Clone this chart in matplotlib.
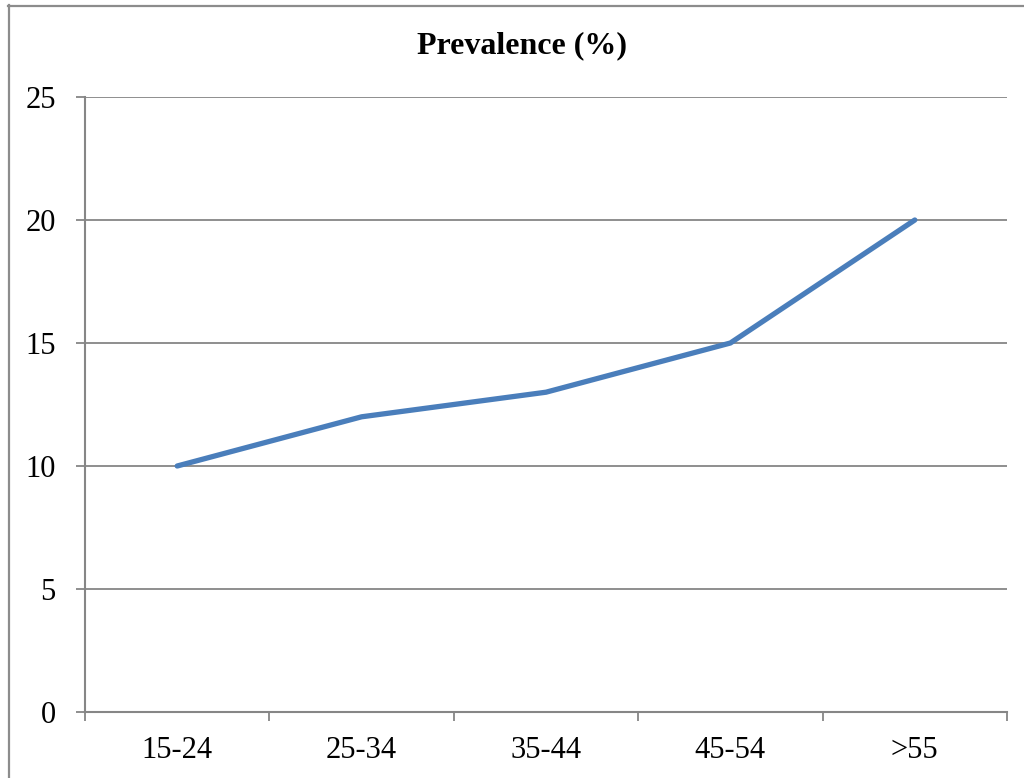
import matplotlib
matplotlib.use("Agg")
import matplotlib.pyplot as plt
from matplotlib.lines import Line2D

age_groups = ["15-24", "25-34", "35-44", "45-54", ">55"]
prevalence = [10, 12, 13, 15, 20]
y_ticks = [0, 5, 10, 15, 20, 25]

plt.rcParams["font.family"] = ["Liberation Serif", "DejaVu Serif"]

W, H = 1024, 778
fig = plt.figure(figsize=(W / 100, H / 100), dpi=100)
ax = fig.add_axes([85 / W, 1 - 712 / H, (1007 - 85) / W, (712 - 97) / H])

grey = "#868686"
x = list(range(len(age_groups)))
ax.plot(x, prevalence, color="#4A7EBB", linewidth=3.8, solid_capstyle="round",
        solid_joinstyle="round", zorder=3)

ax.set_xlim(-0.5, len(age_groups) - 0.5)
ax.set_ylim(0, 25)
ax.set_yticks(y_ticks)
ax.set_yticklabels([str(v) for v in y_ticks])
ax.set_xticks(x)
ax.set_xticklabels(age_groups)
ax.set_xticks([i - 0.5 for i in range(len(age_groups) + 1)], minor=True)

ax.yaxis.grid(True, color=grey, linewidth=1.3)
ax.set_axisbelow(True)

for s in ("top", "right"):
    ax.spines[s].set_visible(False)
for s in ("left", "bottom"):
    ax.spines[s].set_color(grey)
    ax.spines[s].set_linewidth(1.5)

ax.tick_params(axis="y", which="major", length=6.5, width=1.3, color=grey,
               pad=14.5, labelsize=22)
ax.tick_params(axis="x", which="major", length=0, pad=17, labelsize=22)
ax.tick_params(axis="x", which="minor", length=6.5, width=1.3, color=grey)

fig.text(522 / W, 1 - 46 / H, "Prevalence (%)", ha="center", va="center",
         fontsize=23, fontweight="bold")

# chart frame
fig.add_artist(Line2D([8.5 / W, 8.5 / W], [0, 1 - 5 / H], color="#8c8c8c",
                      linewidth=1.6, transform=fig.transFigure))
fig.add_artist(Line2D([8 / W, 1], [1 - 5.5 / H, 1 - 5.5 / H], color="#8c8c8c",
                      linewidth=1.6, transform=fig.transFigure))

fig.savefig("out.png", dpi=100)
